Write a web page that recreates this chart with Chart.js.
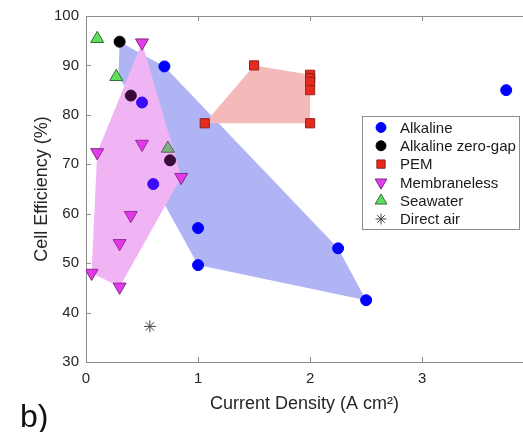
<!DOCTYPE html>
<html>
<head>
<meta charset="utf-8">
<script src="https://cdn.jsdelivr.net/npm/chart.js@4.4.1/dist/chart.umd.min.js"></script>
<style>
  html, body { margin: 0; padding: 0; background: #fff; }
  #wrap { position: relative; width: 523px; height: 432px; }
  #panel { position: absolute; left: 20px; top: 400px; font-size: 32px; line-height: 32px;
           font-family: "Liberation Sans", Arial, sans-serif; color: #111; }
</style>
</head>
<body>
<div id="wrap">
  <canvas id="effChart" width="523" height="432"></canvas>
  <div id="panel">b)</div>
</div>
<script>
// values (current density in A cm^-2, efficiency in %)
const alkalineX = [0.50, 0.60, 0.70, 1.00, 1.00, 2.25, 2.50, 3.75];
const alkalineY = [82.5, 66.0, 89.8, 57.1, 49.6, 53.0, 42.5, 85.0];
const zeroGapX = [0.30, 0.40, 0.75];
const zeroGapY = [94.8, 83.9, 70.8];
const pemX = [1.06, 1.50, 2.00, 2.00, 2.00, 2.00, 2.00];
const pemY = [78.3, 90.0, 88.1, 87.4, 86.7, 85.0, 78.3];
const membranelessX = [0.05, 0.10, 0.30, 0.30, 0.40, 0.50, 0.50, 0.85];
const membranelessY = [48.0, 72.4, 54.0, 45.2, 59.7, 74.1, 94.6, 67.4];
const seawaterX = [0.10, 0.27, 0.73];
const seawaterY = [95.4, 87.7, 73.2];
const directAirX = [0.57];
const directAirY = [37.2];

// shaded regions (outline vertices)
const alkalineRegionX = [0.30, 0.70, 2.25, 2.50, 1.00, 0.60, 0.40, 0.29];
const alkalineRegionY = [94.8, 89.8, 53.0, 42.5, 49.6, 66.0, 83.9, 87.7];
const membranelessRegionX = [0.50, 0.85, 0.30, 0.05, 0.10];
const membranelessRegionY = [94.6, 67.4, 45.2, 48.0, 72.4];
const pemRegionX = [1.06, 1.50, 2.00, 2.00];
const pemRegionY = [78.3, 90.0, 88.1, 78.3];

const xTicks = [0, 1, 2, 3];
const yTicks = [30, 40, 50, 60, 70, 80, 90, 100];

const pts = (xs, ys) => xs.map((x, i) => ({ x: x, y: ys[i] }));

function region(label, xs, ys, color, order) {
  return {
    label: label, data: pts(xs, ys), showLine: true, fill: "shape",
    backgroundColor: color, borderWidth: 0, pointRadius: 0, order: order, inLegend: false,
  };
}

function markers(label, xs, ys, style, radius, fillColor, edgeColor, rotation) {
  return {
    label: label, data: pts(xs, ys), showLine: false,
    pointStyle: style, pointRadius: radius, pointRotation: rotation || 0,
    backgroundColor: fillColor, borderColor: edgeColor, borderWidth: 1,
    order: 5, inLegend: true,
  };
}

const FONT = '"Liberation Sans", Arial, sans-serif';
Chart.defaults.font.family = FONT;
Chart.defaults.color = "#262626";

const axisFrame = {
  id: "axisFrame",
  afterDraw(chart) {
    const { ctx, chartArea: a, scales } = chart;
    ctx.save();
    ctx.strokeStyle = "#8c8c8c";
    ctx.lineWidth = 1;
    ctx.beginPath();
    ctx.moveTo(a.left, a.top + 0.5);
    ctx.lineTo(a.right, a.top + 0.5);
    scales.x.ticks.forEach((t) => {
      const px = Math.round(scales.x.getPixelForValue(t.value)) + 0.5;
      ctx.moveTo(px, a.bottom); ctx.lineTo(px, a.bottom - 5);
      ctx.moveTo(px, a.top); ctx.lineTo(px, a.top + 5);
    });
    scales.y.ticks.forEach((t) => {
      const py = Math.round(scales.y.getPixelForValue(t.value)) + 0.5;
      ctx.moveTo(a.left, py); ctx.lineTo(a.left + 5, py);
    });
    ctx.stroke();
    ctx.restore();
  },
};

const legendBox = {
  id: "legendBox",
  afterDraw(chart) {
    const { ctx, chartArea: a } = chart;
    const items = chart.data.datasets.filter((d) => d.inLegend);
    const w = 157, h = 113;
    const left = a.right - 4 - w, top = a.top + 100;
    ctx.save();
    ctx.fillStyle = "#fff";
    ctx.fillRect(left, top, w, h);
    ctx.strokeStyle = "#8c8c8c";
    ctx.lineWidth = 1;
    ctx.strokeRect(left + 0.5, top + 0.5, w, h);
    ctx.font = "15px " + FONT;
    ctx.textBaseline = "middle";
    items.forEach((d, i) => {
      const yy = top + 11.5 + i * 18.3;
      ctx.fillStyle = d.backgroundColor;
      ctx.strokeStyle = d.borderColor;
      ctx.lineWidth = 1;
      Chart.helpers.drawPoint(ctx, {
        pointStyle: d.pointStyle, rotation: d.pointRotation,
        radius: d.pointRadius * 0.9, borderWidth: 1,
      }, left + 19, yy);
      ctx.fillStyle = "#1a1a1a";
      ctx.fillText(d.label, left + 38, yy + 1);
    });
    ctx.restore();
  },
};

new Chart(document.getElementById("effChart"), {
  type: "scatter",
  data: {
    datasets: [
      markers("Alkaline", alkalineX, alkalineY, "circle", 5.5, "#0000ff", "#0000ff"),
      markers("Alkaline zero-gap", zeroGapX, zeroGapY, "circle", 5.5, "#000000", "#000000"),
      markers("PEM", pemX, pemY, "rect", 6.5, "#e8291c", "#8a2323"),
      markers("Membraneless", membranelessX, membranelessY, "triangle", 7.5, "#e23ee8", "#7d2a80", 180),
      markers("Seawater", seawaterX, seawaterY, "triangle", 7.5, "#5ee05e", "#2f6f2f"),
      markers("Direct air", directAirX, directAirY, "star", 6, "#444444", "#444444"),
      region("alkaline area", alkalineRegionX, alkalineRegionY, "#b0b4f5", 10),
      region("membraneless area", membranelessRegionX, membranelessRegionY, "#f3e3fa", 9),
      region("pem area", pemRegionX, pemRegionY, "#f8dadc", 8),
      region("membraneless tint", membranelessRegionX, membranelessRegionY, "rgba(230,40,230,0.25)", 2),
      region("pem tint", pemRegionX, pemRegionY, "rgba(230,60,50,0.2)", 1),
    ],
  },
  options: {
    responsive: false,
    animation: false,
    devicePixelRatio: 1,
    events: [],
    layout: { autoPadding: false, padding: { left: 28, top: 15, right: 0, bottom: 0 } },
    plugins: { legend: { display: false }, tooltip: { enabled: false } },
    scales: {
      x: {
        type: "linear", position: "bottom", min: 0, max: 3.9,
        afterFit: (s) => { s.height = 70; },
        afterBuildTicks: (s) => { s.ticks = xTicks.map((v) => ({ value: v })); },
        grid: { display: true, drawOnChartArea: false, drawTicks: false },
        border: { color: "#8c8c8c" },
        ticks: { font: { size: 15 }, padding: 8 },
        title: { display: true, text: "Current Density (A cm²)", font: { size: 18 }, padding: { top: 0, bottom: 17 } },
      },
      y: {
        min: 30, max: 100,
        afterFit: (s) => { s.width = 58; },
        afterBuildTicks: (s) => { s.ticks = yTicks.map((v) => ({ value: v })); },
        grid: { display: true, drawOnChartArea: false, drawTicks: false },
        border: { color: "#8c8c8c" },
        ticks: { font: { size: 15 }, padding: 7 },
        title: { display: true, text: "Cell Efficiency (%)", font: { size: 18 }, padding: { top: 3, bottom: 0 } },
      },
    },
  },
  plugins: [axisFrame, legendBox],
});
</script>
</body>
</html>
